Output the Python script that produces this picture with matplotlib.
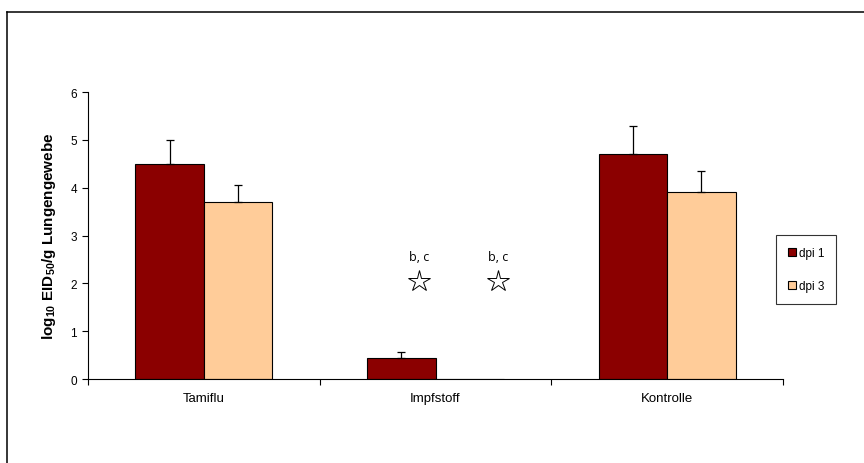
import numpy as np
import matplotlib.pyplot as plt
from matplotlib.lines import Line2D

plt.rcParams['font.family'] = ['Liberation Sans', 'DejaVu Sans']
plt.rcParams['mathtext.default'] = 'regular'

# data
categories = ['Tamiflu', 'Impfstoff', 'Kontrolle']
dpi1 = [4.5, 0.44, 4.7]
dpi1_err = [0.5, 0.12, 0.6]
dpi3 = [3.7, 0, 3.9]
dpi3_err = [0.35, 0, 0.45]
star_x = [0.93, 1.27]
star_y = [2.05, 2.05]
star_labels = ['b, c', 'b, c']

fig = plt.figure(figsize=(8.64, 4.64), dpi=100)
ax = fig.add_axes([0.1019, 0.181, 0.8044, 0.6185])

x = np.arange(len(categories))
w = 0.296
ax.bar(x - w/2, dpi1, w, color='#8B0000', edgecolor='black', linewidth=0.8, label='dpi 1')
ax.bar(x + w/2, dpi3, w, color='#FFCC99', edgecolor='black', linewidth=0.8, label='dpi 3')

# upper error bars only
for xi, v, e in zip(x - w/2, dpi1, dpi1_err):
    if e > 0:
        ax.errorbar(xi, v, yerr=[[0], [e]], fmt='none', ecolor='black', elinewidth=0.9, capsize=3, capthick=0.9)
for xi, v, e in zip(x + w/2, dpi3, dpi3_err):
    if e > 0:
        ax.errorbar(xi, v, yerr=[[0], [e]], fmt='none', ecolor='black', elinewidth=0.9, capsize=3, capthick=0.9)

# stars + letters
ax.plot(star_x, star_y, linestyle='none', marker='*', markersize=16,
        markerfacecolor='white', markeredgecolor='black', markeredgewidth=0.7)
for sx, sy, s in zip(star_x, star_y, star_labels):
    ax.text(sx, sy + 0.38, s, ha='center', va='bottom', fontsize=9, family=['Open Sans', 'DejaVu Sans'])

ax.set_xlim(-0.5, 2.5)
ax.set_ylim(0, 6)
ax.set_yticks(range(7))
ax.set_xticks(x)
ax.set_xticklabels(categories, fontsize=9.5)
ax.set_xticks([-0.5, 0.5, 1.5, 2.5], minor=True)
ax.tick_params(axis='x', which='major', length=0, pad=9)
ax.tick_params(axis='x', which='minor', length=4, direction='out', width=0.8)
ax.tick_params(axis='y', labelsize=8.5, length=4, direction='out', width=0.8, pad=4)
ax.spines['top'].set_visible(False)
ax.spines['right'].set_visible(False)
ax.spines['left'].set_linewidth(0.8)
ax.spines['bottom'].set_linewidth(0.8)
ax.set_ylabel('log$_{10}$ EID$_{50}$/g Lungengewebe', fontsize=11, fontweight='bold', labelpad=9)

leg = fig.legend(loc='upper left', bbox_to_anchor=(776/864, 1 - 236/464), fontsize=8.5,
                 frameon=True, fancybox=False, edgecolor='black', handlelength=0.7,
                 handleheight=0.7, handletextpad=0.25, labelspacing=1.8, borderpad=1.0,
                 borderaxespad=0)
leg.get_frame().set_linewidth(0.8)

# outer chart frame (only left and top visible)
fig.add_artist(Line2D([7/864, 7/864], [0, 1 - 13/464], transform=fig.transFigure, color='black', linewidth=1.1))
fig.add_artist(Line2D([7/864, 1], [1 - 13/464, 1 - 13/464], transform=fig.transFigure, color='black', linewidth=1.1))

fig.savefig('out.png', dpi=100)
